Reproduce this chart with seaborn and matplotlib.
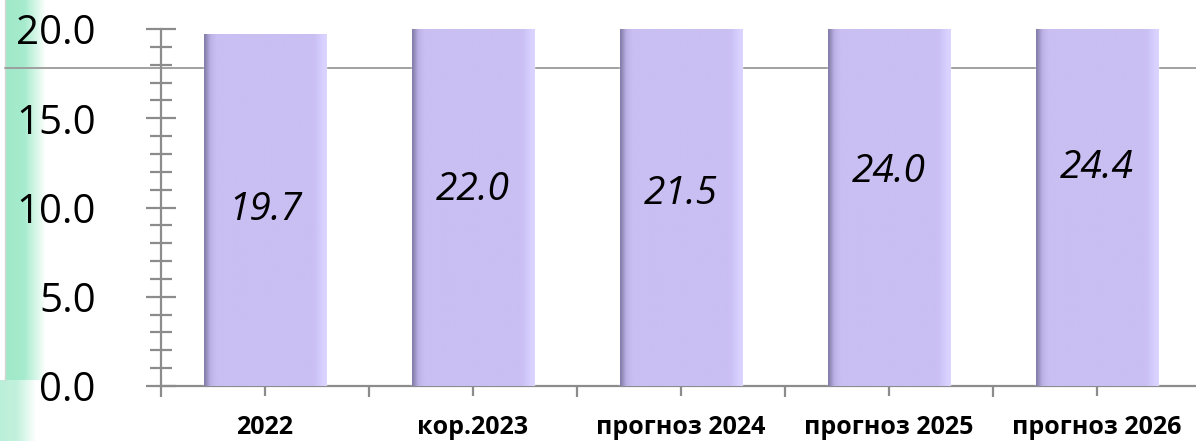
import numpy as np
import pandas as pd
import matplotlib
matplotlib.use("Agg")
import matplotlib.pyplot as plt
from matplotlib.colors import LinearSegmentedColormap
from matplotlib.ticker import MultipleLocator, FormatStrFormatter
import seaborn as sns

# data
categories = ["2022", "кор.2023", "прогноз 2024", "прогноз 2025", "прогноз 2026"]
values = [19.7, 22.0, 21.5, 24.0, 24.4]
ref_line = 17.8
y_max = 20

df = pd.DataFrame({"year": categories, "value": values})

sns.set_theme(style="white")
plt.rcParams["font.family"] = ["Open Sans", "DejaVu Sans"]
plt.rcParams["text.color"] = "black"
plt.rcParams["xtick.labelcolor"] = "black"
plt.rcParams["ytick.labelcolor"] = "black"

fig = plt.figure(figsize=(11.96, 4.41), dpi=100)

# green band on the left (slide decoration)
bg = fig.add_axes([0, 0, 1, 1], zorder=-5)
bg.set_xlim(0, 1196)
bg.set_ylim(441, 0)
bg.axis("off")
band = LinearSegmentedColormap.from_list(
    "band", [(0, "#9fe9c9"), (0.45, "#a6ebcd"), (0.75, "#d4f6e7"), (1, "#ffffff")])
grad = np.linspace(0, 1, 64).reshape(1, -1)
bg.imshow(grad, cmap=band, extent=(6, 46, 380, 0), aspect="auto")
bg.imshow(grad, cmap=band, extent=(0, 36, 441, 380), aspect="auto", alpha=0.7)
bg.plot([5, 5], [0, 380], color="#d5d5d5", lw=1)

ax = fig.add_axes([161 / 1196, (441 - 386) / 441, 1040 / 1196, (386 - 29) / 441])

sns.barplot(data=df, x="year", y="value", color="#c9bff2", width=0.59,
            saturation=1, ax=ax, zorder=3)

# bevel shading on every bar
shade = LinearSegmentedColormap.from_list(
    "shade", [(0, "#857da8"), (0.05, "#bcb2e6"), (0.1, "#c9bff2"),
              (0.9, "#c9bff2"), (0.96, "#d6ceff"), (1, "#dcd5ff")])
for p in ax.patches:
    x0, y0 = p.get_x(), p.get_y()
    w, h = p.get_width(), p.get_height()
    top = min(y0 + h, y_max)
    im = ax.imshow(np.linspace(0, 1, 200).reshape(1, -1), cmap=shade,
                   extent=(x0, x0 + w, y0, top), aspect="auto", zorder=3.1)
    im.set_clip_path(p)

ax.set_xlim(-0.5, len(categories) - 0.5)
ax.set_ylim(0, y_max)
ax.set_aspect("auto")

for i, v in enumerate(values):
    ax.text(i, v / 2, f"{v:.1f}", ha="center", va="center", fontsize=28,
            style="italic", color="black", zorder=5)

ax.axhline(ref_line, xmin=-0.15, xmax=1, color="#9a9a9a", lw=1.3,
           clip_on=False, zorder=1)

ax.yaxis.set_major_locator(MultipleLocator(5))
ax.yaxis.set_minor_locator(MultipleLocator(1))
ax.yaxis.set_major_formatter(FormatStrFormatter("%.1f"))
ax.set_xticks(np.arange(len(categories)))
ax.set_xticks(np.arange(len(categories) + 1) - 0.5, minor=True)
ax.set_xticklabels(categories, fontsize=18, fontweight="bold")

ax.tick_params(axis="y", which="major", direction="inout", length=22, width=1.6,
               color="#8c8c8c", labelsize=29, pad=36, left=True)
ax.tick_params(axis="y", which="minor", direction="inout", length=16, width=1.6,
               color="#8c8c8c", left=True)
ax.tick_params(axis="x", which="major", direction="inout", length=14, width=1.6,
               color="#8c8c8c", pad=14, bottom=True)
ax.tick_params(axis="x", which="minor", direction="out", length=8, width=1.6,
               color="#8c8c8c", bottom=True)

ax.set_xlabel("")
ax.set_ylabel("")
sns.despine(ax=ax)
for s in ["left", "bottom"]:
    ax.spines[s].set_color("#8c8c8c")
    ax.spines[s].set_linewidth(1.6)
ax.patch.set_alpha(0)

fig.savefig("out.png", dpi=100)
